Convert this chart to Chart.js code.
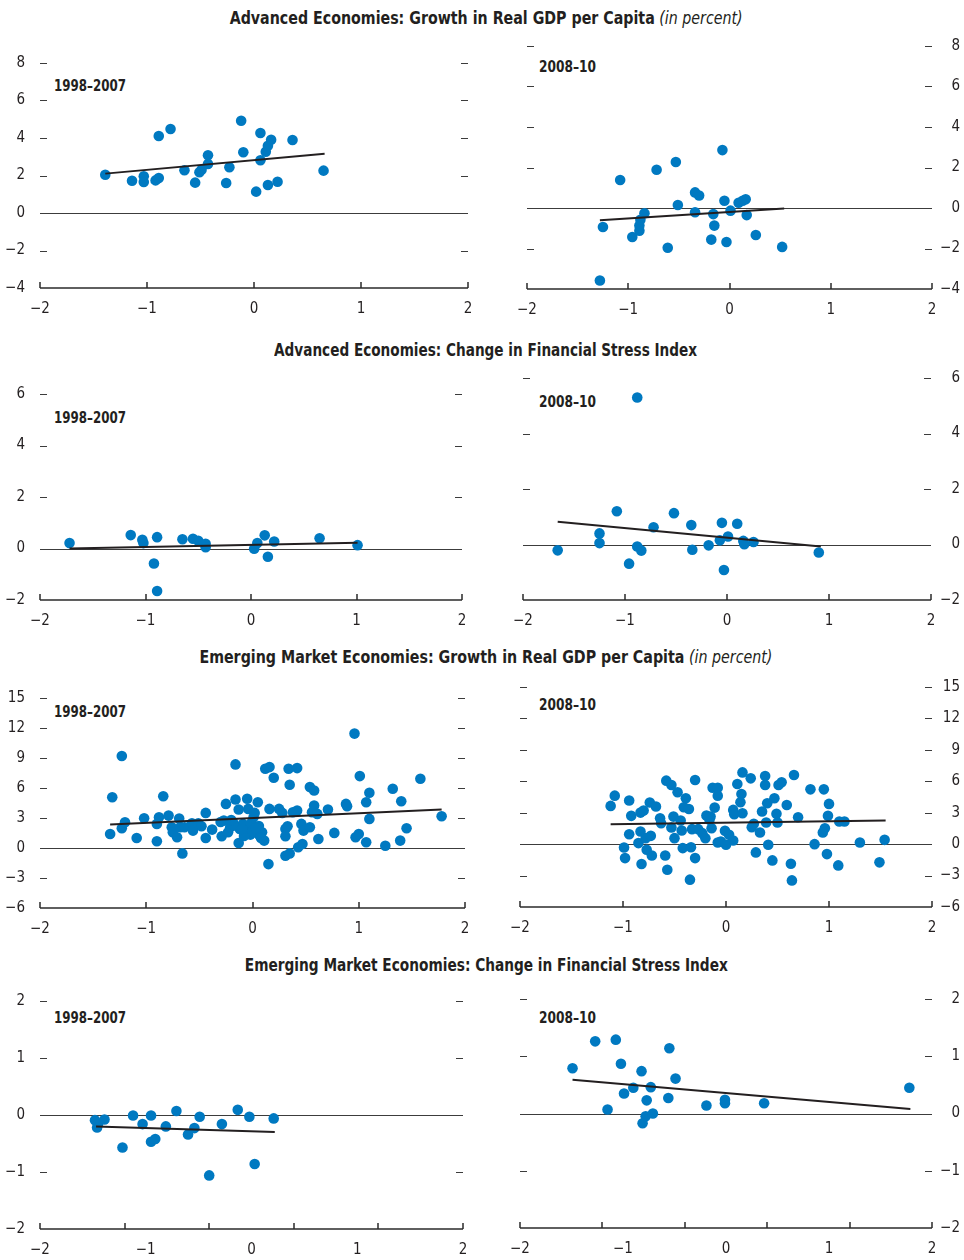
<!DOCTYPE html>
<html>
<head>
<meta charset="utf-8">
<script src="https://cdn.jsdelivr.net/npm/chart.js@4.4.1/dist/chart.umd.min.js"></script>
<style>
html,body{margin:0;padding:0;background:#fff;}
body{width:964px;height:1260px;position:relative;overflow:hidden;font-family:"Liberation Sans Narrow","DejaVu Sans Condensed","Arial Narrow",sans-serif;color:#231f20;}
.title{position:absolute;left:4px;width:964px;text-align:center;font-size:18px;line-height:22px;white-space:nowrap;}
.title span{display:inline-block;transform-origin:50% 50%;}
.title b{font-weight:bold;}
.title i{font-weight:normal;font-style:italic;}
.plabel{position:absolute;font-weight:bold;font-size:16px;line-height:18px;white-space:nowrap;}
.plabel span{display:inline-block;transform-origin:0 50%;}
canvas{position:absolute;}
</style>
</head>
<body>
<div class="title" style="top:7px" data-w="513"><span><b>Advanced Economies: Growth in Real GDP per Capita</b> <i>(in percent)</i></span></div>
<div class="title" style="top:339px" data-w="423"><span><b>Advanced Economies: Change in Financial Stress Index</b></span></div>
<div class="title" style="top:646px" data-w="573"><span><b>Emerging Market Economies: Growth in Real GDP per Capita</b> <i>(in percent)</i></span></div>
<div class="title" style="top:954px" data-w="483"><span><b>Emerging Market Economies: Change in Financial Stress Index</b></span></div>

<div class="plabel" style="left:54px;top:77px" data-w="72"><span>1998–2007</span></div>
<div class="plabel" style="left:539px;top:58px" data-w="57"><span>2008–10</span></div>
<div class="plabel" style="left:54px;top:409px" data-w="72"><span>1998–2007</span></div>
<div class="plabel" style="left:539px;top:393px" data-w="57"><span>2008–10</span></div>
<div class="plabel" style="left:54px;top:703px" data-w="72"><span>1998–2007</span></div>
<div class="plabel" style="left:539px;top:696px" data-w="57"><span>2008–10</span></div>
<div class="plabel" style="left:54px;top:1009px" data-w="72"><span>1998–2007</span></div>
<div class="plabel" style="left:539px;top:1009px" data-w="57"><span>2008–10</span></div>

<script>
// ---------------- DATA ----------------
// Shared x-axis tick labels
const xTickLabels = [-2, -1, 0, 1, 2];
// Tick-mark positions on the x axis (the bottom EM FSI panels mark fifths of the range)
const xMarksInteger = [-2, -1, 0, 1, 2];
const xMarksFifths = [-2, -1.2, -0.4, 0.4, 1.2, 2];

// Y tick labels per row
const yTicksAeGdp = [-4, -2, 0, 2, 4, 6, 8];
const yTicksAeFsi = [-2, 0, 2, 4, 6];
const yTicksEmGdp = [-6, -3, 0, 3, 6, 9, 12, 15];
const yTicksEmFsi = [-2, -1, 0, 1, 2];

// Advanced Economies: Growth in Real GDP per Capita, 1998–2007
const aeGdpPreX = [-1.39,-1.14,-1.03,-1.03,-0.92,-0.89,-0.89,-0.78,-0.65,-0.55,-0.51,-0.49,-0.43,-0.43,-0.26,-0.23,-0.12,-0.10,0.02,0.06,0.06,0.11,0.13,0.16,0.13,0.22,0.36,0.65];
const aeGdpPreY = [2.04,1.72,1.96,1.65,1.74,1.87,4.11,4.48,2.28,1.62,2.17,2.31,2.61,3.08,1.60,2.44,4.92,3.24,1.14,4.27,2.81,3.27,3.59,3.91,1.49,1.67,3.89,2.26];
const aeGdpPreFitX = [-1.39, 0.66];
const aeGdpPreFitY = [2.10, 3.16];

// Advanced Economies: Growth in Real GDP per Capita, 2008–10
const aeGdpPostX = [-1.28,-1.25,-1.08,-0.96,-0.89,-0.89,-0.88,-0.84,-0.72,-0.61,-0.53,-0.51,-0.34,-0.30,-0.34,-0.18,-0.16,-0.15,-0.07,-0.05,-0.03,0.01,0.09,0.13,0.16,0.17,0.26,0.52];
const aeGdpPostY = [-3.58,-0.94,1.38,-1.43,-1.12,-0.87,-0.58,-0.26,1.89,-1.96,2.27,0.15,0.77,0.62,-0.21,-1.56,-0.30,-0.87,2.86,0.36,-1.68,-0.13,0.26,0.36,0.43,-0.35,-1.33,-1.92];
const aeGdpPostFitX = [-1.28, 0.54];
const aeGdpPostFitY = [-0.61, -0.03];

// Advanced Economies: Change in Financial Stress Index, 1998–2007
const aeFsiPreX = [-1.72,-1.14,-1.03,-1.02,-0.92,-0.89,-0.89,-0.65,-0.55,-0.50,-0.43,-0.43,0.03,0.06,0.13,0.16,0.22,0.65,1.01];
const aeFsiPreY = [0.21,0.52,0.34,0.21,-0.58,0.44,-1.65,0.36,0.38,0.30,0.18,0.05,-0.01,0.21,0.51,-0.32,0.27,0.40,0.13];
const aeFsiPreFitX = [-1.72, 1.01];
const aeFsiPreFitY = [0.00, 0.22];

// Advanced Economies: Change in Financial Stress Index, 2008–10
const aeFsiPostX = [-1.66,-1.25,-1.25,-1.08,-0.96,-0.88,-0.88,-0.84,-0.72,-0.52,-0.35,-0.34,-0.18,-0.07,-0.05,-0.03,0.01,0.10,0.16,0.17,0.26,0.90];
const aeFsiPostY = [-0.21,0.40,0.05,1.20,-0.69,5.30,-0.07,-0.22,0.62,1.13,0.70,-0.19,-0.03,0.15,0.78,-0.92,0.29,0.75,0.13,0.01,0.09,-0.29];
const aeFsiPostFitX = [-1.66, 0.92];
const aeFsiPostFitY = [0.82, -0.07];

// Emerging Market Economies: Growth in Real GDP per Capita, 1998–2007
const emGdpPreX = [-1.34,-1.32,-1.23,-1.23,-1.20,-1.09,-1.02,-0.90,-0.90,-0.88,
  -0.84,-0.79,-0.76,-0.75,-0.71,-0.69,-0.68,-0.66,-0.64,-0.57,
  -0.56,-0.51,-0.48,-0.44,-0.44,-0.38,-0.29,-0.27,-0.25,-0.23,
  -0.21,-0.18,-0.16,-0.16,-0.13,-0.13,-0.12,-0.09,-0.05,-0.04,
  -0.03,-0.02,-0.01,0.01,0.02,0.04,0.05,0.06,0.09,0.11,
  0.12,0.16,0.16,0.15,0.20,0.25,0.28,0.31,0.31,0.31,
  0.33,0.34,0.35,0.35,0.38,0.42,0.42,0.43,0.46,0.47,
  0.48,0.54,0.54,0.56,0.58,0.58,0.61,0.62,0.71,0.77,
  0.88,0.89,0.96,0.97,1.01,1.00,1.07,1.07,1.10,1.10,
  1.25,1.32,1.39,1.40,1.45,1.58,1.78,
  -0.18,-0.05,0.06,-0.08,0.00,0.03,-0.10,-0.20,-0.30,0.08];
const emGdpPreY = [1.40,5.08,9.20,1.97,2.58,1.00,2.98,0.67,2.41,3.08,
  5.18,3.24,2.07,1.57,1.07,2.94,2.07,-0.54,2.07,2.47,
  1.74,2.47,2.17,3.51,1.00,1.84,1.17,2.74,4.41,1.57,
  2.07,2.51,8.36,4.85,3.85,0.50,1.91,2.41,4.92,3.91,
  1.97,1.34,2.51,3.08,3.51,1.91,4.58,1.34,1.57,0.74,
  7.93,8.09,3.91,-1.61,7.02,3.91,3.51,1.91,-0.77,1.17,
  2.17,7.93,6.32,-0.54,3.58,3.75,7.99,0.07,2.41,0.40,
  1.74,6.09,2.07,3.58,5.75,4.25,3.41,0.90,3.85,1.51,
  4.41,4.18,11.44,1.07,7.19,1.40,0.57,4.58,5.52,2.91,
  0.23,5.92,0.74,4.68,1.97,6.92,3.18,
  2.24,1.57,2.20,1.20,1.70,2.00,1.90,2.80,2.60,1.00];
const emGdpPreFitX = [-1.34, 1.78];
const emGdpPreFitY = [2.34, 3.85];

// Emerging Market Economies: Growth in Real GDP per Capita, 2008–10
const emGdpPostX = [-1.12,-1.08,-0.99,-0.98,-0.94,-0.94,-0.92,-0.85,-0.83,-0.83,
  -0.82,-0.80,-0.78,-0.77,-0.74,-0.73,-0.72,-0.68,-0.64,-0.63,
  -0.59,-0.58,-0.57,-0.53,-0.53,-0.51,-0.50,-0.47,-0.44,-0.43,
  -0.42,-0.41,-0.39,-0.36,-0.35,-0.34,-0.33,-0.30,-0.30,-0.27,
  -0.23,-0.20,-0.19,-0.16,-0.15,-0.14,-0.13,-0.11,-0.08,-0.08,
  -0.08,-0.05,-0.01,0.00,0.03,0.07,0.07,0.08,0.11,0.14,
  0.15,0.16,0.16,0.24,0.25,0.27,0.29,0.33,0.35,0.38,
  0.38,0.39,0.40,0.41,0.45,0.47,0.49,0.50,0.51,0.54,
  0.59,0.63,0.64,0.66,0.70,0.82,0.86,0.95,0.94,0.96,
  0.98,0.99,1.00,1.09,1.10,1.15,1.30,1.49,1.54];
const emGdpPostY = [3.65,4.63,-0.32,-1.33,4.16,0.95,2.70,0.10,3.01,1.21,
  -1.90,3.20,0.57,-0.54,3.97,0.79,-1.08,3.59,2.47,2.00,
  -1.08,6.06,-2.44,5.65,1.59,2.63,0.57,4.95,2.25,1.30,
  -0.38,3.52,4.38,3.36,-3.39,-0.29,1.43,-1.33,6.12,1.43,
  1.05,0.57,2.73,2.32,2.63,1.52,5.39,3.49,5.39,4.63,
  0.16,0.25,1.27,-0.06,0.89,0.35,3.27,2.86,5.74,4.00,
  4.79,2.95,6.85,6.28,1.62,1.94,-0.79,1.11,3.11,6.50,
  5.65,2.06,3.90,-0.06,-1.55,4.38,2.89,2.06,5.65,5.90,
  3.74,-1.87,-3.46,6.60,2.57,5.23,0.00,5.23,1.11,1.52,
  -0.95,2.70,3.84,-2.03,2.16,2.16,0.16,-1.74,0.41];
const emGdpPostFitX = [-1.12, 1.55];
const emGdpPostFitY = [1.90, 2.25];

// Emerging Market Economies: Change in Financial Stress Index, 1998–2007
const emFsiPreX = [-1.48,-1.46,-1.45,-1.39,-1.22,-1.12,-1.03,-0.95,-0.95,-0.91,-0.81,-0.71,-0.60,-0.54,-0.49,-0.40,-0.28,-0.13,-0.02,0.03,0.21];
const emFsiPreY = [-0.09,-0.22,-0.15,-0.08,-0.57,-0.01,-0.16,-0.01,-0.47,-0.42,-0.20,0.07,-0.34,-0.23,-0.03,-1.06,-0.16,0.09,-0.03,-0.86,-0.06];
const emFsiPreFitX = [-1.47, 0.22];
const emFsiPreFitY = [-0.20, -0.30];

// Emerging Market Economies: Change in Financial Stress Index, 2008–10
const emFsiPostX = [-1.49,-1.27,-1.15,-1.07,-1.02,-0.99,-0.90,-0.82,-0.81,-0.78,-0.77,-0.73,-0.71,-0.56,-0.55,-0.49,-0.19,-0.01,-0.01,0.37,1.78];
const emFsiPostY = [0.79,1.26,0.07,1.29,0.87,0.35,0.45,0.74,-0.17,-0.05,0.23,0.46,0.00,0.27,1.14,0.61,0.14,0.24,0.18,0.18,0.45];
const emFsiPostFitX = [-1.49, 1.79];
const emFsiPostFitY = [0.59, 0.08];

// ---------------- STYLE / LAYOUT ----------------
const FONT = '"Liberation Sans Narrow","DejaVu Sans Condensed","Arial Narrow",sans-serif';
const INK = '#231f20';
const BLUE = '#0079c1';

function fmt(v) { return v < 0 ? '\u2212' + Math.abs(v) : String(v); }
function pts(xs, ys) { return xs.map((x, i) => ({ x: x, y: ys[i] })); }

const decor = {
  id: 'decor',
  beforeDatasetsDraw(chart, args, o) {
    const { ctx, chartArea: a, scales: { x, y } } = chart;
    ctx.save();
    const seg = (x1, y1, x2, y2) => { ctx.beginPath(); ctx.moveTo(x1, y1); ctx.lineTo(x2, y2); ctx.stroke(); };
    ctx.strokeStyle = '#3c3c3c';
    ctx.lineWidth = 1;
    o.yTicks.forEach((v, i) => {
      if (i === 0) return;
      const py = Math.round(y.getPixelForValue(v)) + 0.5;
      seg(a.left, py, a.left + 7, py);
      seg(a.right - 7, py, a.right, py);
    });
    const z = Math.round(y.getPixelForValue(0)) + 0.5;
    seg(a.left, z, a.right, z);
    ctx.strokeStyle = '#2a2a2a';
    ctx.lineWidth = 1.5;
    const b = y.getPixelForValue(o.yTicks[0]);
    seg(a.left, b, a.right, b);
    o.xMarks.forEach(v => {
      const px = Math.round(x.getPixelForValue(v));
      seg(px, b, px, b - 6);
    });
    ctx.restore();
  }
};

function panel(cfg) {
  const isLeft = cfg.side === 'left';
  const cLeft = isLeft ? 0 : 480, cW = isLeft ? 480 : 484;
  const padTop = 12, xAxisH = 36;
  const inner = cfg.B - cfg.T;
  const H = padTop + inner + xAxisH + 2;
  const padBottom = H - padTop - inner - xAxisH;
  const c = document.createElement('canvas');
  c.width = cW; c.height = H;
  c.style.left = cLeft + 'px'; c.style.top = (cfg.T - padTop) + 'px';
  c.style.width = cW + 'px'; c.style.height = H + 'px';
  document.body.appendChild(c);
  const yt = cfg.yTicks;
  new Chart(c, {
    type: 'scatter',
    data: {
      datasets: [
        { data: pts(cfg.fitX, cfg.fitY), showLine: true, borderColor: INK, borderWidth: 2, pointRadius: 0, fill: false },
        { data: pts(cfg.xs, cfg.ys), pointRadius: 5.3, pointBackgroundColor: BLUE, pointBorderWidth: 0, showLine: false }
      ]
    },
    plugins: [decor],
    options: {
      responsive: false, animation: false, events: [],
      layout: { padding: { left: isLeft ? 0 : cfg.L - 480, right: isLeft ? 480 - cfg.R : 4, top: padTop, bottom: padBottom } },
      plugins: { legend: { display: false }, tooltip: { enabled: false }, decor: { yTicks: yt, xMarks: cfg.xMarks } },
      scales: {
        x: {
          type: 'linear', position: 'bottom', min: -2, max: 2,
          afterBuildTicks: s => { s.ticks = xTickLabels.map(v => ({ value: v })); },
          afterFit: s => { s.height = xAxisH; },
          grid: { display: false }, border: { display: false },
          ticks: { padding: 4, autoSkip: false, maxRotation: 0, color: INK, font: { family: FONT, size: 15 }, callback: v => fmt(v) }
        },
        y: {
          type: 'linear', position: isLeft ? 'left' : 'right', min: yt[0], max: yt[yt.length - 1],
          afterBuildTicks: s => { s.ticks = yt.map(v => ({ value: v })); },
          afterFit: s => { s.width = isLeft ? cfg.L : 960 - cfg.R; },
          grid: { display: true, drawOnChartArea: false, drawTicks: true, tickLength: 15, tickColor: 'rgba(0,0,0,0)', color: 'rgba(0,0,0,0)' },
          border: { display: false },
          ticks: { padding: 0, crossAlign: isLeft ? 'near' : 'far', color: INK, font: { family: FONT, size: 15 }, callback: v => fmt(v) }
        }
      }
    }
  });
}

panel({ side: 'left',  L: 40,  R: 468, T: 63,   B: 288,  yTicks: yTicksAeGdp, xMarks: xMarksInteger, xs: aeGdpPreX,  ys: aeGdpPreY,  fitX: aeGdpPreFitX,  fitY: aeGdpPreFitY });
panel({ side: 'right', L: 527, R: 932, T: 46,   B: 289,  yTicks: yTicksAeGdp, xMarks: xMarksInteger, xs: aeGdpPostX, ys: aeGdpPostY, fitX: aeGdpPostFitX, fitY: aeGdpPostFitY });
panel({ side: 'left',  L: 40,  R: 462, T: 394,  B: 600,  yTicks: yTicksAeFsi, xMarks: xMarksInteger, xs: aeFsiPreX,  ys: aeFsiPreY,  fitX: aeFsiPreFitX,  fitY: aeFsiPreFitY });
panel({ side: 'right', L: 523, R: 931, T: 378,  B: 600,  yTicks: yTicksAeFsi, xMarks: xMarksInteger, xs: aeFsiPostX, ys: aeFsiPostY, fitX: aeFsiPostFitX, fitY: aeFsiPostFitY });
panel({ side: 'left',  L: 40,  R: 465, T: 698,  B: 908,  yTicks: yTicksEmGdp, xMarks: xMarksInteger, xs: emGdpPreX,  ys: emGdpPreY,  fitX: emGdpPreFitX,  fitY: emGdpPreFitY });
panel({ side: 'right', L: 520, R: 932, T: 687,  B: 907,  yTicks: yTicksEmGdp, xMarks: xMarksInteger, xs: emGdpPostX, ys: emGdpPostY, fitX: emGdpPostFitX, fitY: emGdpPostFitY });
panel({ side: 'left',  L: 40,  R: 463, T: 1001, B: 1229, yTicks: yTicksEmFsi, xMarks: xMarksFifths,  xs: emFsiPreX,  ys: emFsiPreY,  fitX: emFsiPreFitX,  fitY: emFsiPreFitY });
panel({ side: 'right', L: 520, R: 932, T: 999,  B: 1228, yTicks: yTicksEmFsi, xMarks: xMarksFifths,  xs: emFsiPostX, ys: emFsiPostY, fitX: emFsiPostFitX, fitY: emFsiPostFitY });

// Compress headline text horizontally to the reference's measured widths
document.querySelectorAll('.title, .plabel').forEach(el => {
  const span = el.firstElementChild;
  const w = span.getBoundingClientRect().width;
  if (w > 0) span.style.transform = 'scaleX(' + ((+el.dataset.w) / w).toFixed(4) + ')';
});
</script>
</body>
</html>
